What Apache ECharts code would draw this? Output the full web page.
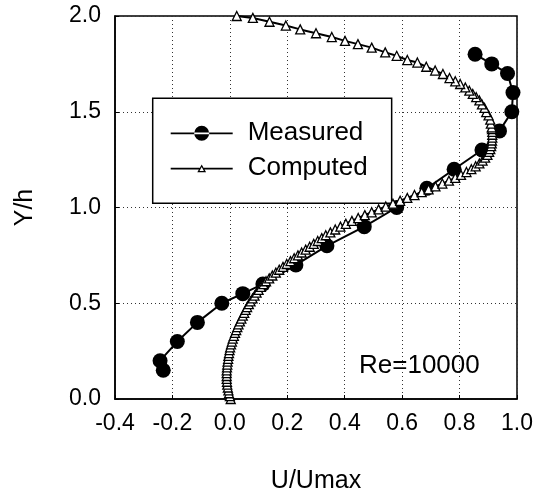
<!DOCTYPE html>
<html>
<head>
<meta charset="utf-8">
<script src="https://cdn.jsdelivr.net/npm/echarts@6/dist/echarts.min.js"></script>
<style>
  html, body { margin: 0; padding: 0; background: #fff; }
  #chart { width: 537px; height: 499px; }
</style>
</head>
<body>
<div id="chart"></div>
<script>
// Velocity profile: U/Umax across the channel height Y/h
const xTicks = [-0.4, -0.2, 0.0, 0.2, 0.4, 0.6, 0.8, 1.0];
const yTicks = [0.0, 0.5, 1.0, 1.5, 2.0];

// Measured points [U/Umax, Y/h]
const measuredU = [-0.232, -0.243, -0.183, -0.113, -0.028, 0.045, 0.115, 0.230, 0.338, 0.468,
                   0.581, 0.686, 0.781, 0.878, 0.939, 0.982, 0.986, 0.967, 0.912, 0.854];
const measuredY = [0.15, 0.20, 0.30, 0.40, 0.50, 0.55, 0.60, 0.70, 0.80, 0.90,
                   1.00, 1.10, 1.20, 1.30, 1.40, 1.50, 1.60, 1.70, 1.75, 1.80];

// Computed profile [U/Umax, Y/h]
const computedU = [
  0.003, 0.000, -0.003, -0.005, -0.007, -0.009, -0.010, -0.011, -0.011, -0.011,
  -0.011, -0.010, -0.009, -0.008, -0.006, -0.005, -0.003, -0.001, 0.001, 0.004,
  0.007, 0.010, 0.014, 0.018, 0.022, 0.026, 0.030, 0.035, 0.040, 0.045,
  0.050, 0.055, 0.060, 0.066, 0.072, 0.079, 0.086, 0.093, 0.100, 0.108,
  0.117, 0.126, 0.137, 0.148, 0.160, 0.172, 0.185, 0.198, 0.211, 0.224,
  0.237, 0.250, 0.264, 0.278, 0.292, 0.306, 0.320, 0.334, 0.350, 0.367,
  0.385, 0.404, 0.425, 0.447, 0.470, 0.494, 0.518, 0.543, 0.568, 0.593,
  0.618, 0.643, 0.668, 0.692, 0.716, 0.740, 0.763, 0.785, 0.805, 0.824,
  0.841, 0.856, 0.869, 0.880, 0.889, 0.897, 0.903, 0.907, 0.910, 0.912,
  0.913, 0.914, 0.914, 0.914, 0.913, 0.912,
  0.909, 0.907, 0.901, 0.893, 0.887, 0.878, 0.869, 0.858, 0.846, 0.834,
  0.820, 0.802, 0.785, 0.765, 0.742, 0.715, 0.684, 0.653, 0.618, 0.581,
  0.541, 0.494, 0.446, 0.401, 0.355, 0.300, 0.245, 0.195, 0.138, 0.080, 0.024
];
const computedY = [
  0.000, 0.015, 0.030, 0.045, 0.060, 0.075, 0.090, 0.105, 0.120, 0.135,
  0.150, 0.165, 0.180, 0.195, 0.210, 0.225, 0.240, 0.255, 0.270, 0.285,
  0.300, 0.315, 0.330, 0.345, 0.360, 0.375, 0.390, 0.405, 0.420, 0.435,
  0.450, 0.465, 0.480, 0.495, 0.510, 0.525, 0.540, 0.555, 0.570, 0.585,
  0.600, 0.615, 0.630, 0.645, 0.660, 0.675, 0.690, 0.705, 0.720, 0.735,
  0.750, 0.765, 0.780, 0.795, 0.810, 0.825, 0.840, 0.855, 0.870, 0.885,
  0.900, 0.915, 0.930, 0.945, 0.960, 0.975, 0.990, 1.005, 1.020, 1.035,
  1.050, 1.065, 1.080, 1.095, 1.110, 1.125, 1.140, 1.155, 1.170, 1.185,
  1.200, 1.215, 1.230, 1.245, 1.260, 1.275, 1.290, 1.305, 1.320, 1.335,
  1.350, 1.365, 1.380, 1.395, 1.410, 1.418,
  1.438, 1.459, 1.481, 1.498, 1.520, 1.538, 1.559, 1.576, 1.593, 1.610,
  1.627, 1.645, 1.659, 1.676, 1.697, 1.715, 1.735, 1.757, 1.770, 1.792,
  1.810, 1.835, 1.853, 1.870, 1.890, 1.910, 1.930, 1.950, 1.970, 1.990, 2.000
];

const seriesNames = ['Measured', 'Computed'];
const reynoldsLabel = 'Re=10000';

const FONT = "'Liberation Sans', Arial, Helvetica, sans-serif";

const pair = (us, ys) => us.map((u, i) => [u, ys[i]]);

// Legend glyphs: line with filled circle, line with hollow triangle
const iconMeasured = 'path://M0,7.1 L62,7.1 L62,8.9 L0,8.9 Z M23.5,8 A7.5,7.5 0 1,0 38.5,8 A7.5,7.5 0 1,0 23.5,8 Z';
const iconComputed = 'path://M0,7.1 L28.9,7.1 L28.9,8.9 L0,8.9 Z M33.1,7.1 L62,7.1 L62,8.9 L33.1,8.9 Z ' +
  'M31,3.8 L35.4,11.6 L26.6,11.6 Z M31,6.4 L28.8,10.3 L33.2,10.3 Z';

const chart = echarts.init(document.getElementById('chart'), null, { renderer: 'canvas' });

const gridBox = { left: 115, right: 20, top: 16, bottom: 97 };

chart.setOption({
  backgroundColor: '#fff',
  animation: false,
  textStyle: { fontFamily: FONT, color: '#000' },
  grid: Object.assign({ show: true, borderColor: '#000', borderWidth: 1.5, backgroundColor: 'transparent' }, gridBox),
  xAxis: {
    type: 'value',
    min: xTicks[0],
    max: xTicks[xTicks.length - 1],
    interval: 0.2,
    name: 'U/Umax',
    nameLocation: 'middle',
    nameGap: 70,
    nameTextStyle: { fontSize: 25, color: '#000', fontFamily: FONT },
    axisLine: { show: true, onZero: false, lineStyle: { color: '#000', width: 1.5 } },
    axisTick: { show: true, inside: true, length: 4, lineStyle: { color: '#000' } },
    axisLabel: { fontSize: 23, color: '#000', margin: 13, fontFamily: FONT, formatter: v => v.toFixed(1) },
    splitLine: { show: true, lineStyle: { color: '#333', width: 1, type: [1, 3] } }
  },
  yAxis: {
    type: 'value',
    min: yTicks[0],
    max: yTicks[yTicks.length - 1],
    interval: 0.5,
    name: 'Y/h',
    nameLocation: 'middle',
    nameGap: 77,
    nameRotate: 90,
    nameTextStyle: { fontSize: 25, color: '#000', fontFamily: FONT },
    axisLine: { show: true, onZero: false, lineStyle: { color: '#000', width: 1.5 } },
    axisTick: { show: true, inside: true, length: 4, lineStyle: { color: '#000' } },
    axisLabel: { fontSize: 23, color: '#000', margin: 14, fontFamily: FONT, formatter: v => v.toFixed(1) },
    splitLine: { show: true, lineStyle: { color: '#333', width: 1, type: [1, 3] } }
  },
  legend: {
    orient: 'vertical',
    left: 152.7,
    top: 98.3,
    backgroundColor: '#fff',
    borderColor: '#000',
    borderWidth: 1.5,
    borderRadius: 0,
    padding: [22, 24, 22, 18],
    itemGap: 9,
    itemWidth: 62,
    itemHeight: 16,
    symbolKeepAspect: true,
    textStyle: { fontSize: 26, color: '#000', fontFamily: FONT, lineHeight: 25, padding: [0, 0, 0, 10] },
    data: [
      { name: seriesNames[0], icon: iconMeasured, itemStyle: { color: '#000', borderWidth: 0 } },
      { name: seriesNames[1], icon: iconComputed, itemStyle: { color: '#000', borderWidth: 0 } }
    ]
  },
  series: [
    {
      name: seriesNames[0],
      type: 'line',
      data: pair(measuredU, measuredY),
      symbol: 'circle',
      symbolSize: 15,
      itemStyle: { color: '#000' },
      lineStyle: { color: '#000', width: 2 },
      z: 3
    },
    {
      name: seriesNames[1],
      type: 'line',
      data: pair(computedU, computedY),
      symbol: 'triangle',
      symbolSize: 9,
      showAllSymbol: true,
      itemStyle: { color: '#fff', borderColor: '#000', borderWidth: 1.3 },
      lineStyle: { color: '#000', width: 2 },
      z: 4
    }
  ]
});

// Reynolds-number annotation placed in data space (lower-right of the plot)
const rePos = chart.convertToPixel({ gridIndex: 0 }, [0.66, 0.172]);
chart.setOption({
  graphic: [{
    type: 'text',
    x: rePos[0],
    y: rePos[1],
    style: {
      text: reynoldsLabel,
      fontSize: 26,
      fontFamily: FONT,
      fill: '#000',
      textAlign: 'center',
      textVerticalAlign: 'middle'
    },
    z: 10
  }]
});
</script>
</body>
</html>
